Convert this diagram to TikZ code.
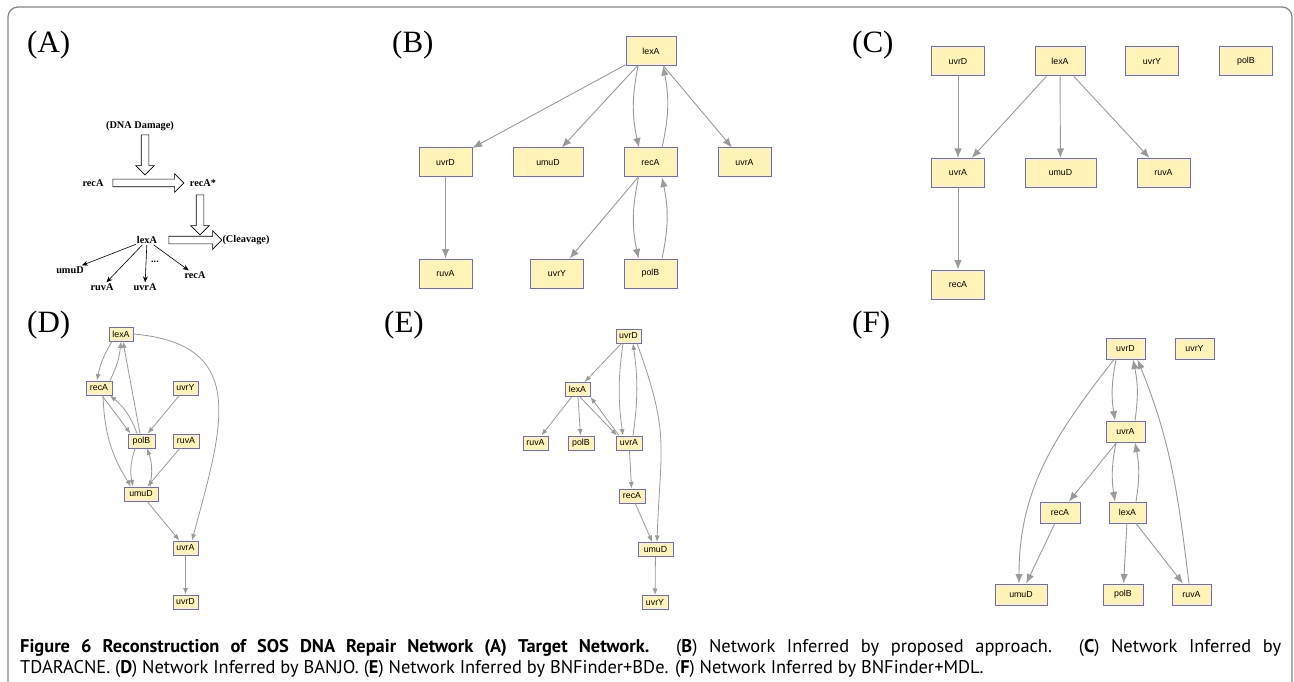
\documentclass[tikz,border=0pt]{standalone}
\usepackage{fontspec}
\setmainfont{Liberation Serif}
\setsansfont{Liberation Sans}
\newfontfamily\capfont{PT Sans}
\usetikzlibrary{arrows.meta,shapes.arrows,positioning,calc}

\definecolor{boxfill}{HTML}{FFF3B8}
\definecolor{boxline}{HTML}{6C6CC8}
\definecolor{edgegray}{HTML}{9A9A9A}
\definecolor{framegray}{HTML}{858585}

\tikzset{
  gene/.style={draw=boxline, fill=boxfill, line width=1pt, inner sep=0pt,
               font=\sffamily\fontsize{8.8}{10}\selectfont},
  bigbox/.style={gene, minimum width=53pt, minimum height=29pt},
  midbox/.style={gene, minimum width=39pt, minimum height=21pt},
  smallbox/.style={gene, minimum width=25pt, minimum height=14pt},
  edge/.style={draw=edgegray, line width=0.9pt, -{Latex[length=9.5pt,width=7.5pt]}},
  sedge/.style={draw=edgegray, line width=0.8pt, -{Latex[length=6.5pt,width=5pt]}},
  panel/.style={anchor=west, inner sep=0pt, font=\fontsize{31}{31}\selectfont},
  target/.style={inner sep=1pt, font=\bfseries\fontsize{10.3}{10}\selectfont},
  thin/.style={draw=black, line width=0.6pt, -{Stealth[length=6pt,width=5pt]}},
  hollow/.style={single arrow, draw=black, fill=white, line width=0.6pt,
                 inner xsep=0pt, inner ysep=3.5pt, minimum width=18pt,
                 single arrow head extend=5.5pt, single arrow head indent=0pt,
                 minimum height=#1},
  caption/.style={anchor=base west, inner sep=0pt,
                  font=\capfont\fontsize{18.4}{21}\selectfont},
}

\begin{document}
\begin{tikzpicture}[x=1pt,y=1pt]
  \useasboundingbox (0,0) rectangle (1294,-682);
  \fill[white] (0,0) rectangle (1294,-682);
  \draw[framegray, line width=1.2pt, rounded corners=10pt]
    (8,-682) -- (8,-7) -- (1292,-7) -- (1292,-682);

  % panel labels
  \node[panel] (labA) at (27,-45)  {(A)};
  \node[panel] (labB) at (392,-45) {(B)};
  \node[panel] (labC) at (852,-45) {(C)};
  \node[panel] (labD) at (27,-325) {(D)};
  \node[panel] (labE) at (384,-325) {(E)};
  \node[panel] (labF) at (852,-325) {(F)};

  % (A) target network
  \node[target] (tdam) at (140,-126) {(DNA Damage)};
  \node[target] (trec) at (93,-183)  {recA};
  \node[target] (tstar) at (203,-183) {recA*};
  \node[target] (tlex) at (147,-240) {lexA};
  \node[target] (tclv) at (246,-240) {(Cleavage)};
  \node[target] (tumu) at (70,-270)  {umuD};
  \node[target] (truv) at (102,-287) {ruvA};
  \node[target] (tuvr) at (145,-287) {uvrA};
  \node[target] (tdot) at (155,-262) {...};
  \node[target] (trec2) at (195,-275) {recA};
  \node[hollow=40pt, rotate=-90] at (145,-153) {};
  \node[hollow=71pt] at (146.5,-183) {};
  \node[hollow=40pt, rotate=-90] at (200,-213) {};
  \node[hollow=53pt] at (193.5,-240) {};
  \draw[thin] (tlex) -- (tumu);
  \draw[thin] (tlex) -- (truv);
  \draw[thin] (tlex) -- (tuvr);
  \draw[thin] (tlex) -- (trec2);

  % (B) proposed approach
  \node[bigbox, minimum width=50pt] (b-lexA) at (651,-51) {lexA};
  \node[bigbox] (b-uvrD) at (445.5,-162.5) {uvrD};
  \node[bigbox, minimum width=70pt] (b-umuD) at (548,-162.5) {umuD};
  \node[bigbox] (b-recA) at (650.5,-162.5) {recA};
  \node[bigbox] (b-uvrA) at (744.5,-162.5) {uvrA};
  \node[bigbox] (b-ruvA) at (445.5,-273.5) {ruvA};
  \node[bigbox] (b-uvrY) at (557,-273.5) {uvrY};
  \node[bigbox] (b-polB) at (650.5,-273.5) {polB};
  \draw[edge] (b-lexA) -- (b-uvrD);
  \draw[edge] (b-lexA) -- (b-umuD);
  \draw[edge] (b-lexA) -- (b-uvrA);
  \draw[edge] ([xshift=-13pt]b-lexA.south) to[bend right=12] ([xshift=-11.5pt]b-recA.north);
  \draw[edge] ([xshift=11.5pt]b-recA.north) to[bend right=12] ([xshift=12pt]b-lexA.south);
  \draw[edge] (b-uvrD) -- (b-ruvA);
  \draw[edge] (b-recA) -- (b-uvrY);
  \draw[edge] ([xshift=-12pt]b-recA.south) to[bend right=12] ([xshift=-12pt]b-polB.north);
  \draw[edge] ([xshift=11.5pt]b-polB.north) to[bend right=12] ([xshift=11.5pt]b-recA.south);

  % (C) TDARACNE
  \node[bigbox] (c-uvrD) at (958,-61.5) {uvrD};
  \node[bigbox, minimum width=50pt] (c-lexA) at (1060,-61.5) {lexA};
  \node[bigbox] (c-uvrY) at (1152,-61.5) {uvrY};
  \node[bigbox] (c-polB) at (1246,-61.5) {polB};
  \node[bigbox] (c-uvrA) at (958,-173) {uvrA};
  \node[bigbox, minimum width=71pt] (c-umuD) at (1060.5,-173) {umuD};
  \node[bigbox] (c-ruvA) at (1163.5,-173) {ruvA};
  \node[bigbox] (c-recA) at (958,-284.5) {recA};
  \draw[edge] (c-uvrD) -- (c-uvrA);
  \draw[edge] (c-lexA) -- (c-uvrA);
  \draw[edge] (c-lexA) -- (c-umuD);
  \draw[edge] (c-lexA) -- (c-ruvA);
  \draw[edge] (c-uvrA) -- (c-recA);

  % (D) BANJO
  \node[smallbox, minimum width=24pt] (d-lexA) at (121,-334) {lexA};
  \node[smallbox, minimum width=26pt] (d-recA) at (99,-388) {recA};
  \node[smallbox] (d-uvrY) at (185.5,-388) {uvrY};
  \node[smallbox, minimum width=27pt] (d-polB) at (141.5,-441) {polB};
  \node[smallbox, minimum width=26pt] (d-ruvA) at (186,-441) {ruvA};
  \node[smallbox, minimum width=34pt] (d-umuD) at (141,-494) {umuD};
  \node[smallbox] (d-uvrA) at (185.5,-548) {uvrA};
  \node[smallbox] (d-uvrD) at (185.5,-602) {uvrD};
  \draw[sedge] ([xshift=-9pt]d-lexA.south) to[bend right=10] ([xshift=-2pt]d-recA.north);
  \draw[sedge] ([xshift=11pt]d-recA.north) to[bend right=10] (d-lexA.south);
  \draw[sedge] ([xshift=-1.5pt]d-polB.north) -- ([xshift=2pt]d-lexA.south);
  \draw[sedge] ([xshift=-4.5pt]d-polB.north) to[bend right=15] ([xshift=11pt]d-recA.south);
  \draw[sedge] ([xshift=3pt]d-recA.south) -- ([xshift=-11pt]d-polB.north);
  \draw[sedge] ([xshift=4pt]d-recA.south) to[bend right=15] ([xshift=-10pt]d-umuD.north);
  \draw[sedge] (d-uvrY) -- (d-polB);
  \draw[sedge] ([xshift=-6.5pt]d-polB.south) to[bend right=15] ([xshift=-8pt]d-umuD.north);
  \draw[sedge] ([xshift=9pt]d-umuD.north) to[bend right=15] ([xshift=5.5pt]d-polB.south);
  \draw[sedge] (d-ruvA) -- (d-umuD);
  \draw[sedge] (d-umuD) -- (d-uvrA);
  \draw[sedge] (d-lexA.east) to[out=-5, in=75, looseness=1.4] ([xshift=6.5pt]d-uvrA.north);
  \draw[sedge] (d-uvrA) -- (d-uvrD);

  % (E) BNFinder+BDe
  \node[smallbox] (e-uvrD) at (628.5,-336) {uvrD};
  \node[smallbox] (e-lexA) at (577.5,-389.5) {lexA};
  \node[smallbox] (e-ruvA) at (535.5,-443) {ruvA};
  \node[smallbox, minimum width=26pt] (e-polB) at (581,-443) {polB};
  \node[smallbox, minimum width=26pt] (e-uvrA) at (629,-443) {uvrA};
  \node[smallbox, minimum width=26pt] (e-recA) at (632,-496) {recA};
  \node[smallbox, minimum width=35pt] (e-umuD) at (655.5,-549.5) {umuD};
  \node[smallbox, minimum width=26pt] (e-uvrY) at (655,-602.5) {uvrY};
  \draw[sedge] (e-uvrD) -- (e-lexA);
  \draw[sedge] ([xshift=-5.5pt]e-uvrD.south) to[bend right=8] ([xshift=-6pt]e-uvrA.north);
  \draw[sedge] ([xshift=4pt]e-uvrA.north) to[bend right=8] ([xshift=4.5pt]e-uvrD.south);
  \draw[sedge] ([xshift=8.5pt]e-uvrD.south) to[out=-70, in=88, looseness=1.25] ([xshift=1.5pt]e-umuD.north);
  \draw[sedge] (e-lexA) -- (e-ruvA);
  \draw[sedge] (e-lexA) -- (e-polB);
  \draw[sedge] ([xshift=2.5pt]e-lexA.south) -- ([xshift=-12pt]e-uvrA.north);
  \draw[sedge] ([xshift=-10pt]e-uvrA.north) -- (e-lexA.south east);
  \draw[sedge] (e-uvrA) -- (e-recA);
  \draw[sedge] (e-recA) -- (e-umuD);
  \draw[sedge] (e-umuD) -- (e-uvrY);

  % (F) BNFinder+MDL
  \node[midbox] (f-uvrD) at (1125.5,-348.5) {uvrD};
  \node[midbox] (f-uvrY) at (1194.5,-348.5) {uvrY};
  \node[midbox] (f-uvrA) at (1125.5,-431.5) {uvrA};
  \node[midbox, minimum width=40pt] (f-recA) at (1060,-512.5) {recA};
  \node[midbox, minimum width=37pt] (f-lexA) at (1127.5,-512.5) {lexA};
  \node[midbox, minimum width=52pt] (f-umuD) at (1021,-594.5) {umuD};
  \node[midbox, minimum width=40pt] (f-polB) at (1123,-594.5) {polB};
  \node[midbox] (f-ruvA) at (1191.5,-594.5) {ruvA};
  \draw[edge] ([xshift=-9.5pt]f-uvrD.south) to[bend right=10] ([xshift=-10.5pt]f-uvrA.north);
  \draw[edge] ([xshift=9.5pt]f-uvrA.north) to[bend right=10] ([xshift=7.5pt]f-uvrD.south);
  \draw[edge] ([xshift=-11.5pt]f-uvrD.south) to[out=-128, in=90] ([xshift=-2pt]f-umuD.north);
  \draw[edge] (f-uvrA) -- (f-recA);
  \draw[edge] ([xshift=-9.5pt]f-uvrA.south) to[bend right=10] ([xshift=-12.5pt]f-lexA.north);
  \draw[edge] ([xshift=8.5pt]f-lexA.north) to[bend right=10] ([xshift=9.5pt]f-uvrA.south);
  \draw[edge] (f-recA) -- (f-umuD);
  \draw[edge] (f-lexA) -- (f-polB);
  \draw[edge] (f-lexA) -- (f-ruvA);
  \draw[edge] ([xshift=-2.5pt]f-ruvA.north) to[out=97, in=-68] ([xshift=12pt]f-uvrD.south);

  % caption
  \node[caption] (cap1) at (20,-652)
    {\makebox[1261pt][s]{{\bfseries Figure 6 Reconstruction of SOS DNA Repair Network (A) Target Network.} ({\bfseries B}) Network Inferred by proposed approach. ({\bfseries C}) Network Inferred by}};
  \node[caption] (cap2) at (20,-673)
    {TDARACNE. ({\bfseries D}) Network Inferred by BANJO. ({\bfseries E}) Network Inferred by BNFinder+BDe. ({\bfseries F}) Network Inferred by BNFinder+MDL.};
\end{tikzpicture}
\end{document}
